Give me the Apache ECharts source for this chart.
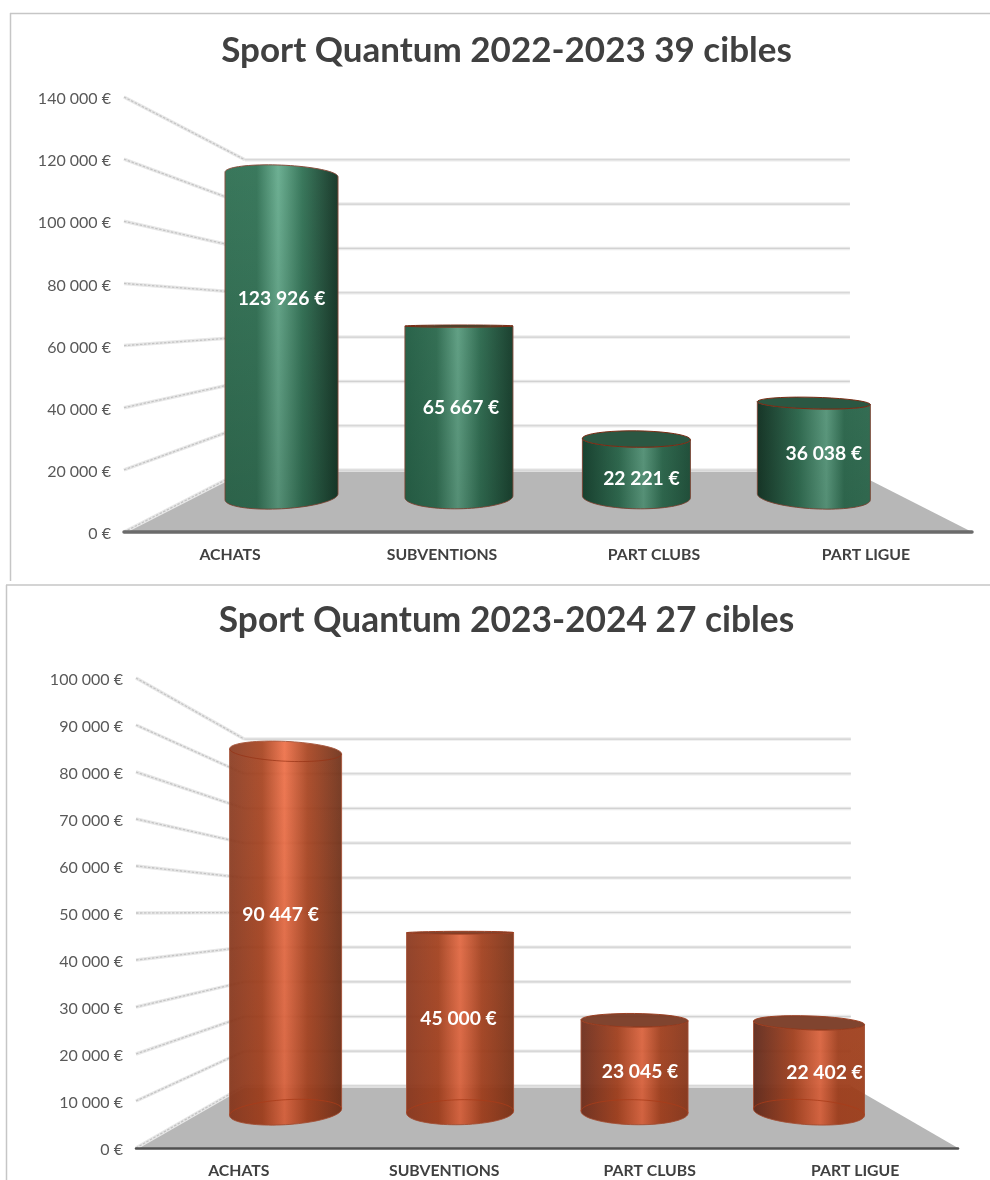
<!DOCTYPE html>
<html><head><meta charset="utf-8">
<style>html,body{margin:0;padding:0;background:#fff}#c{width:990px;height:1180px}</style>
<script src="https://cdn.jsdelivr.net/npm/echarts@6/dist/echarts.min.js"></script>
</head><body><div id="c"></div>
<script>
const categories = ['ACHATS', 'SUBVENTIONS', 'PART CLUBS', 'PART LIGUE'];
const titleA = 'Sport Quantum 2022-2023 39 cibles';
const titleB = 'Sport Quantum 2023-2024 27 cibles';
const valuesA = [123926, 65667, 22221, 36038];
const valuesB = [90447, 45000, 23045, 22402];
const ticksA = [0, 20000, 40000, 60000, 80000, 100000, 120000, 140000];
const ticksB = [0, 10000, 20000, 30000, 40000, 50000, 60000, 70000, 80000, 90000, 100000];

const FONT = 'Lato, "Open Sans", sans-serif';
const fmt = v => String(v).replace(/\B(?=(\d{3})+$)/g, ' ') + ' €';

const styleA = {
  grid: {left: 124, top: 97, width: 848, height: 435}, max: 140000, interval: 20000,
  vx: 546, vy: 316, sBack: 0.7134, sMid: 0.837, ry: 12,
  widths: [113, 108, 108, 113], peak: [0.47, 0.49, 0.565, 0.61],
  base: '#3b7a5e', hi: '#6fb295',
  left: ['#3a785c', '#2f6c52', '#1f4a38', '#1c3a2c'], right: ['#1c3a2c', '#1f4534', '#2a5c46', '#3f7e62'],
  topFill: '#2b5742', edge: '#8a5040', topEdge: '#7a2c14', shade: '0,30,15', shadeMax: 0.24,
  labelDx: [0, 2, 5, 10], labelDy: [-37, -4, 11, 4], opacity: 1, seeThrough: false,
  axisLine: '#6b6b6b', axisWidth: 3.5
};
const styleB = {
  grid: {left: 136, top: 678, width: 822, height: 470}, max: 100000, interval: 10000,
  vx: 549, vy: 911, sBack: 0.738, sMid: 0.849, ry: 12.5,
  widths: [112, 107, 107, 111], peak: [0.49, 0.5, 0.57, 0.6],
  base: '#a84420', hi: '#ee7048',
  left: ['#8a3c22', '#8e3c22', '#6b3020', '#5a2a1e'], right: ['#6d3018', '#7a3418', '#8a3a1e', '#a84620'],
  topFill: '#76361f', edge: '#a8583e', topEdge: '#9a3a1c', shade: '110,25,0', shadeMax: 0.2,
  labelDx: [-5, -1.5, 5.5, 15.5], labelDy: [-17, -4, 6, 5], opacity: 0.93, seeThrough: true,
  axisLine: '#505050', axisWidth: 2.5
};

function toDepth(p, s, st) { return [st.vx + (p[0] - st.vx) * s, st.vy + (p[1] - st.vy) * s]; }

function floorRender(st) {
  return function (params, api) {
    const cs = params.coordSys, y0 = api.coord([0, 0])[1];
    const fl = [cs.x, y0], fr = [cs.x + cs.width, y0];
    return {type: 'polygon', shape: {points: [fl, fr, toDepth(fr, st.sBack, st), toDepth(fl, st.sBack, st)]},
      style: {fill: '#b7b7b7'}};
  };
}
function wallRender(st) {
  return function (params, api) {
    const cs = params.coordSys, y = api.coord([0, api.value(1)])[1];
    const fl = [cs.x, y], fr = [cs.x + cs.width, y];
    const bl = toDepth(fl, st.sBack, st), br = toDepth(fr, st.sBack, st);
    return {type: 'group', children: [
      {type: 'line', shape: {x1: fl[0], y1: fl[1], x2: bl[0], y2: bl[1]}, style: {stroke: '#e8e8e8', lineWidth: 3.5}},
      {type: 'line', shape: {x1: fl[0], y1: fl[1], x2: bl[0], y2: bl[1]}, style: {stroke: '#c4c4c4', lineWidth: 1.3, lineDash: [2.5, 1.5]}},
      {type: 'line', shape: {x1: bl[0], y1: bl[1], x2: br[0], y2: br[1]}, style: {stroke: '#ececec', lineWidth: 3.5}},
      {type: 'line', shape: {x1: bl[0], y1: bl[1], x2: br[0], y2: br[1]}, style: {stroke: '#d2d2d2', lineWidth: 1.2}}
    ]};
  };
}
function barRender(st) {
  return function (params, api) {
    const i = api.value(0), v = api.value(1);
    const b = toDepth(api.coord([i, 0]), st.sMid, st);
    const t = toDepth(api.coord([i, v]), st.sMid, st);
    const half = st.widths[i] / 2, cx = b[0];
    const ryAt = y => Math.max(1, st.ry * Math.abs(y - st.vy) / (b[1] - st.vy));
    const slope = y => 1.1e-6 * (cx - st.vx) * (y - st.vy);
    const pt = (cy, th) => {
      const c = Math.cos(th), s = Math.sin(th);
      return [cx + half * c, cy + ryAt(cy) * s + half * c * slope(cy)];
    };
    const arc = (cy, a0, a1) => {
      const out = [];
      for (let k = 0; k <= 40; k++) out.push(pt(cy, a0 + (a1 - a0) * k / 40));
      return out;
    };
    const above = t[1] < st.vy;
    const baseEdge = arc(b[1], Math.PI, 0);      // left to right, front of the base
    const frontArc = arc(t[1], 0, Math.PI);      // right to left, lower edge of the top
    const backArc = arc(t[1], 0, -Math.PI);      // right to left, upper edge of the top
    const outline = baseEdge.concat(above ? backArc : frontArc);
    const p = st.peak[i];
    const grad = {type: 'linear', x: 0, y: 0, x2: 1, y2: 0, colorStops: [
      {offset: 0, color: st.left[i]}, {offset: p * 0.6, color: st.base}, {offset: p, color: st.hi},
      {offset: p + (1 - p) * 0.4, color: st.base}, {offset: 1, color: st.right[i]}]};
    const dark = y => Math.max(0, Math.min(1, (y - (b[1] - 340)) / 340)) * st.shadeMax;
    const shade = {type: 'linear', x: 0, y: 0, x2: 0, y2: 1, colorStops: [
      {offset: 0, color: 'rgba(' + st.shade + ',' + dark(t[1]) + ')'},
      {offset: 1, color: 'rgba(' + st.shade + ',' + dark(b[1]) + ')'}]};
    const children = [
      {type: 'polygon', shape: {points: outline}, style: {fill: grad, stroke: st.edge, lineWidth: 1, opacity: st.opacity}},
      {type: 'polygon', shape: {points: outline}, style: {fill: shade}}
    ];
    if (st.seeThrough) {
      children.push({type: 'polyline', shape: {points: arc(b[1], 0, -Math.PI)}, style: {fill: 'none', stroke: 'rgba(170,60,25,0.8)', lineWidth: 1}});
    }
    if (!above) {
      children.push({type: 'polygon', shape: {points: arc(t[1], 0, 2 * Math.PI)},
        style: {fill: st.topFill, stroke: st.topEdge, lineWidth: 1, opacity: st.opacity}});
    } else if (st.seeThrough) {
      children.push({type: 'polyline', shape: {points: frontArc}, style: {fill: 'none', stroke: 'rgba(150,50,20,0.7)', lineWidth: 1}});
    }
    children.push({type: 'text', z2: 50, style: {
      text: fmt(v), x: cx + st.labelDx[i], y: (b[1] + t[1]) / 2 + st.labelDy[i],
      fill: '#ffffff', font: 'bold 19.3px ' + FONT, align: 'center', verticalAlign: 'middle',
      textAlign: 'center', textVerticalAlign: 'middle'}});
    return {type: 'group', children};
  };
}

function axes(st) {
  return {
    x: {type: 'category', gridIndex: st.idx, data: categories, boundaryGap: true, z: 6,
      axisLine: {show: true, lineStyle: {color: st.axisLine, width: st.axisWidth}}, axisTick: {show: false},
      splitLine: {show: false},
      axisLabel: {margin: 15, color: '#404040', fontFamily: FONT, fontWeight: 'bold', fontSize: 15.8, interval: 0}},
    y: {type: 'value', gridIndex: st.idx, min: 0, max: st.max, interval: st.interval,
      axisLine: {show: false}, axisTick: {show: false}, splitLine: {show: false},
      axisLabel: {margin: 13, color: '#595959', fontFamily: FONT, fontSize: 16, verticalAlign: 'top', lineHeight: 16, padding: [-6, 0, 0, 0], formatter: fmt}}
  };
}
function seriesFor(st, values, ticks) {
  const base = {type: 'custom', coordinateSystem: 'cartesian2d', xAxisIndex: st.idx, yAxisIndex: st.idx,
    silent: true, clip: false, encode: {x: 0, y: 1}};
  return [
    Object.assign({}, base, {name: 'floor', z: 1, renderItem: floorRender(st), data: [[0, 0]]}),
    Object.assign({}, base, {name: 'wall', z: 2, renderItem: wallRender(st), data: ticks.map(v => [0, v])}),
    Object.assign({}, base, {name: 'values', z: 3, renderItem: barRender(st), data: values.map((v, i) => [i, v])})
  ];
}
styleA.idx = 0; styleB.idx = 1;
const aA = axes(styleA), aB = axes(styleB);
const frame = (x1, y1, x2, y2) => ({type: 'line', shape: {x1, y1, x2, y2}, silent: true, style: {stroke: '#c6c6c6', lineWidth: 1.5}});
const chart = echarts.init(document.getElementById('c'), null, {renderer: 'canvas', width: 990, height: 1180});
chart.setOption({
  animation: false,
  backgroundColor: '#ffffff',
  title: [
    {text: titleA, left: 501.5, top: 28, textAlign: 'center', textStyle: {fontFamily: FONT, fontWeight: 'bold', fontSize: 35, color: '#404040'}},
    {text: titleB, left: 501.5, top: 598, textAlign: 'center', textStyle: {fontFamily: FONT, fontWeight: 'bold', fontSize: 35.3, color: '#404040'}}
  ],
  grid: [styleA.grid, styleB.grid],
  xAxis: [aA.x, aB.x],
  yAxis: [aA.y, aB.y],
  series: seriesFor(styleA, valuesA, ticksA).concat(seriesFor(styleB, valuesB, ticksB)),
  graphic: [frame(10, 13.5, 990, 13.5), frame(10.5, 13, 10.5, 581), frame(6, 585, 990, 585), frame(6.5, 585, 6.5, 1180)]
});
</script></body></html>
